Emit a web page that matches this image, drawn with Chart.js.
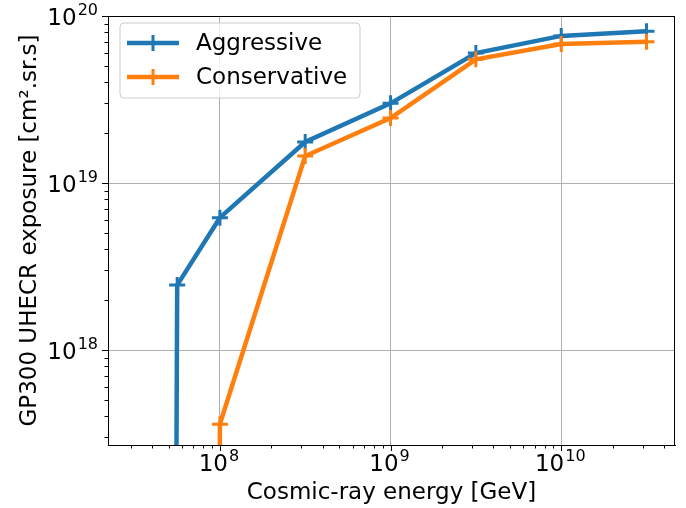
<!DOCTYPE html>
<html>
<head>
<meta charset="utf-8">
<script src="https://cdn.jsdelivr.net/npm/chart.js@4"></script>
<style>
  html, body { margin: 0; padding: 0; background: #fff; }
  #wrap { width: 686px; height: 508px; }
</style>
</head>
<body>
<div id="wrap"><canvas id="myChart" width="686" height="508"></canvas></div>
<script>
// energies in GeV
const energies = [3.16e7, 5.62e7, 1e8, 3.16e8, 1e9, 3.16e9, 1e10, 3.16e10];
// exposure in cm2.sr.s (0 = no exposure, drops off the log axis)
const aggressive = [0, 2.45e18, 6.2e18, 1.76e19, 3.0e19, 6.0e19, 7.6e19, 8.1e19];
const conservative = [0, 0, 3.6e17, 1.45e19, 2.45e19, 5.5e19, 6.8e19, 7.0e19];

const seriesNames = ['Aggressive', 'Conservative'];
const seriesColors = ['#1f77b4', '#ff7f0e'];

const xMin = 2.21e7, xMax = 4.64e10;
const yMin = 2.7e17, yMax = 1e20;

const font = 'DejaVu Sans';

function isMajor(v) {
    const e = Math.log10(v);
    return Math.abs(e - Math.round(e)) < 1e-9;
}
function logTicks(min, max) {
    let ticks = [];
    for (let e = Math.floor(Math.log10(min)); e <= Math.ceil(Math.log10(max)); e++) {
        for (let m = 1; m < 10; m++) {
            const v = m * Math.pow(10, e);
            if (v >= min * 0.999 && v <= max * 1.001) ticks.push({ value: v, major: m === 1 });
        }
    }
    return ticks;
}

// matplotlib-style clipping of non-positive values on a log axis
function toPoints(ys) {
    return energies.map((x, i) => ({ x: x, y: ys[i] > 0 ? ys[i] : 1e-40 }));
}

// draws "10" with a raised exponent, like matplotlib's mathtext
function drawPow(ctx, v, x, baseline, align) {
    const base = '10';
    const exp = String(Math.round(Math.log10(v)));
    ctx.font = '23px "' + font + '"';
    const wb = ctx.measureText(base).width;
    ctx.font = '16px "' + font + '"';
    const we = ctx.measureText(exp).width;
    const w = wb + 1 + we;
    let left = align === 'right' ? x - w : x - w / 2;
    ctx.fillStyle = '#000';
    ctx.textAlign = 'left';
    ctx.textBaseline = 'alphabetic';
    ctx.font = '23px "' + font + '"';
    ctx.fillText(base, left, baseline);
    ctx.font = '16px "' + font + '"';
    ctx.fillText(exp, left + wb + 1, baseline - 10);
}

const axisDecor = {
    id: 'axisDecor',
    afterDraw(chart) {
        const ctx = chart.ctx;
        const a = chart.chartArea;
        const xs = chart.scales.x, ys = chart.scales.y;
        ctx.save();
        // frame
        ctx.strokeStyle = '#000';
        ctx.lineWidth = 1;
        ctx.strokeRect(a.left + 0.5, a.top + 0.5, a.right - a.left - 1, a.bottom - a.top);

        // tick marks and labels
        ctx.beginPath();
        logTicks(xMin, xMax).forEach(t => {
            const px = Math.round(xs.getPixelForValue(t.value)) + 0.5;
            ctx.moveTo(px, a.bottom);
            ctx.lineTo(px, a.bottom + (t.major ? 6 : 3.5));
        });
        logTicks(yMin, yMax).forEach(t => {
            const py = Math.round(ys.getPixelForValue(t.value)) + 0.5;
            ctx.moveTo(a.left, py);
            ctx.lineTo(a.left - (t.major ? 6 : 3.5), py);
        });
        ctx.stroke();
        logTicks(xMin, xMax).filter(t => t.major).forEach(t => {
            drawPow(ctx, t.value, xs.getPixelForValue(t.value) - 1, a.bottom + 26, 'center');
        });
        logTicks(yMin, yMax).filter(t => t.major).forEach(t => {
            drawPow(ctx, t.value, a.left - 10, ys.getPixelForValue(t.value) + 9, 'right');
        });

        // legend box
        const bx = 120, by = 23, bw = 240, bh = 75, r = 4;
        ctx.beginPath();
        ctx.roundRect(bx, by, bw, bh, r);
        ctx.fillStyle = 'rgba(255,255,255,0.8)';
        ctx.fill();
        ctx.strokeStyle = '#cccccc';
        ctx.lineWidth = 1;
        ctx.stroke();

        const rows = [43, 77];
        seriesNames.forEach((name, i) => {
            const y = rows[i];
            ctx.strokeStyle = seriesColors[i];
            ctx.lineWidth = 4.5;
            ctx.beginPath();
            ctx.moveTo(127, y);
            ctx.lineTo(179, y);
            ctx.stroke();
            ctx.lineWidth = 3;
            ctx.beginPath();
            ctx.moveTo(153, y - 8);
            ctx.lineTo(153, y + 8);
            ctx.moveTo(145, y);
            ctx.lineTo(161, y);
            ctx.stroke();
            ctx.fillStyle = '#000';
            ctx.font = '23px "' + font + '"';
            ctx.textAlign = 'left';
            ctx.textBaseline = 'middle';
            ctx.fillText(name, 196, y + 1);
        });
        ctx.restore();
    }
};

const datasets = [aggressive, conservative].map((ys, i) => ({
    label: seriesNames[i],
    data: toPoints(ys),
    borderColor: seriesColors[i],
    backgroundColor: seriesColors[i],
    borderWidth: 4.5,
    pointStyle: 'cross',
    pointRadius: 8,
    pointBorderWidth: 3,
    pointHoverRadius: 8,
    order: 1 - i,
    tension: 0
}));

const config = {
    type: 'line',
    data: { datasets: datasets },
    options: {
        responsive: false,
        animation: false,
        layout: { padding: { top: 16, right: 10, left: 0, bottom: 0 } },
        plugins: {
            legend: { display: false },
            tooltip: { enabled: false }
        },
        scales: {
            x: {
                type: 'logarithmic',
                min: xMin,
                max: xMax,
                afterBuildTicks: s => { s.ticks = logTicks(xMin, xMax); },
                afterFit: s => { s.height = 63; },
                border: { color: '#000', width: 1 },
                grid: {
                    color: c => (c.tick && c.tick.major) ? '#b0b0b0' : 'rgba(0,0,0,0)',
                    drawTicks: false,
                    lineWidth: 1
                },
                ticks: {
                    autoSkip: false,
                    maxRotation: 0,
                    callback: () => ''
                },
                title: {
                    display: true,
                    text: 'Cosmic-ray energy [GeV]',
                    color: '#000',
                    font: { family: font, size: 23 },
                    padding: { top: 0, bottom: 1 }
                }
            },
            y: {
                type: 'logarithmic',
                min: yMin,
                max: yMax,
                afterBuildTicks: s => { s.ticks = logTicks(yMin, yMax); },
                afterFit: s => { s.width = 108; },
                border: { color: '#000', width: 1 },
                grid: {
                    color: c => (c.tick && c.tick.major) ? '#b0b0b0' : 'rgba(0,0,0,0)',
                    drawTicks: false,
                    lineWidth: 1
                },
                ticks: {
                    autoSkip: false,
                    callback: () => ''
                },
                title: {
                    display: true,
                    text: 'GP300 UHECR exposure [cm².sr.s]',
                    color: '#000',
                    font: { family: font, size: 23 },
                    padding: { top: 16, bottom: 0 }
                }
            }
        }
    },
    plugins: [axisDecor]
};

const myChart = new Chart(document.getElementById('myChart'), config);
</script>
</body>
</html>
